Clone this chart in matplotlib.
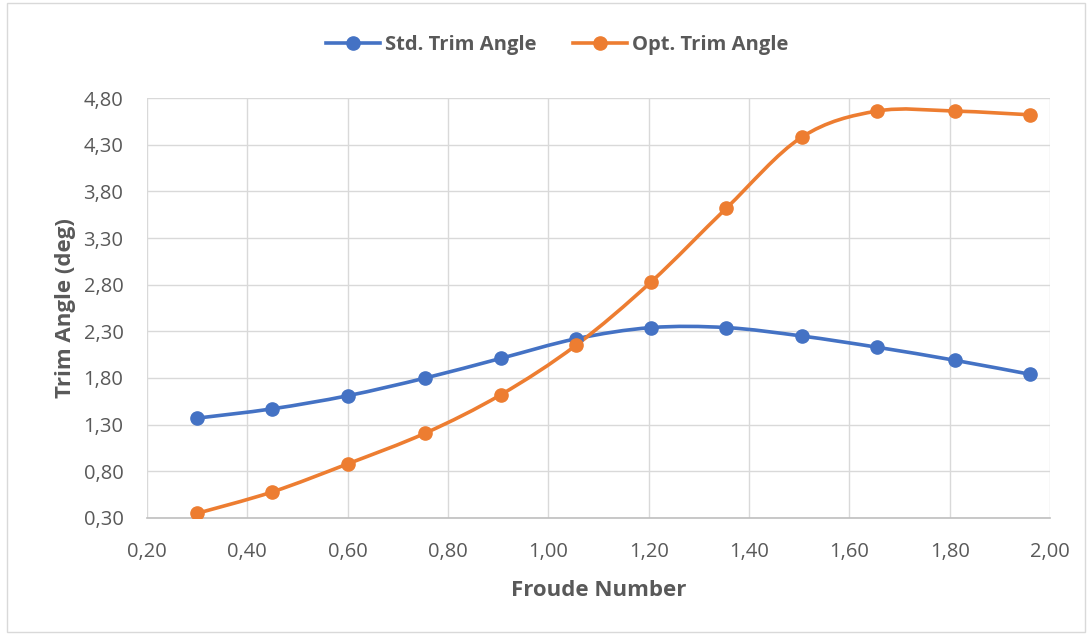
import numpy as np
import matplotlib
matplotlib.use("Agg")
import matplotlib.pyplot as plt
from matplotlib.path import Path
from matplotlib.patches import PathPatch, Rectangle
from matplotlib.lines import Line2D
from matplotlib.ticker import FuncFormatter

# data
froude = [0.30, 0.45, 0.60, 0.755, 0.905, 1.055, 1.205, 1.355, 1.505, 1.655, 1.81, 1.96]
std_trim = [1.37, 1.47, 1.61, 1.80, 2.01, 2.22, 2.34, 2.34, 2.25, 2.13, 1.99, 1.84]
opt_trim = [0.35, 0.58, 0.88, 1.21, 1.62, 2.15, 2.83, 3.62, 4.38, 4.66, 4.66, 4.62]

x_ticks = np.arange(0.20, 2.001, 0.20)
y_ticks = np.arange(0.30, 4.801, 0.50)

BLUE = '#4472C4'
ORANGE = '#ED7D31'
TXT = '#595959'

plt.rcParams['font.family'] = ['Open Sans', 'DejaVu Sans']


def smooth_path(xs, ys):
    """Excel style smoothed line: cubic bezier through every point"""
    pts = np.column_stack([xs, ys])
    n = len(pts)
    verts = [pts[0]]
    codes = [Path.MOVETO]
    for i in range(n - 1):
        p0 = pts[i - 1] if i > 0 else pts[i]
        p1 = pts[i]
        p2 = pts[i + 1]
        p3 = pts[i + 2] if i + 2 < n else pts[i + 1]
        c1 = p1 + (p2 - p0) / 6.0
        c2 = p2 - (p3 - p1) / 6.0
        verts += [c1, c2, p2]
        codes += [Path.CURVE4] * 3
    return Path(verts, codes)


fig = plt.figure(figsize=(10.92, 6.35), dpi=100)
ax = fig.add_axes([147 / 1092, 1 - 518 / 635, (1050 - 147) / 1092, (518 - 98) / 635])

for xs, ys, col in [(froude, std_trim, BLUE), (froude, opt_trim, ORANGE)]:
    ax.add_patch(PathPatch(smooth_path(xs, ys), fill=False, edgecolor=col,
                           linewidth=2.6, zorder=3, capstyle='round'))
    ax.plot(xs, ys, linestyle='none', marker='o', markersize=9.5, color=col, zorder=4)

ax.set_xlim(0.20, 2.00)
ax.set_ylim(0.30, 4.80)
ax.set_xticks(x_ticks)
ax.set_yticks(y_ticks)
fmt = FuncFormatter(lambda v, p: f'{v:.2f}'.replace('.', ','))
ax.xaxis.set_major_formatter(fmt)
ax.yaxis.set_major_formatter(fmt)
ax.tick_params(length=0, labelsize=14.5, colors=TXT, pad=17)
ax.grid(True, color='#D9D9D9', linewidth=1)
ax.set_axisbelow(True)
for s in ['top', 'right', 'left']:
    ax.spines[s].set_visible(False)
ax.spines['bottom'].set_color('#BFBFBF')
ax.spines['bottom'].set_linewidth(1.2)

ax.set_xlabel('Froude Number', fontsize=16, fontweight='bold', color=TXT, labelpad=13)
ax.set_ylabel('Trim Angle (deg)', fontsize=16, fontweight='bold', color=TXT, labelpad=5)

handles = [Line2D([], [], color=BLUE, marker='o', markersize=9.5, linewidth=2.6),
           Line2D([], [], color=ORANGE, marker='o', markersize=9.5, linewidth=2.6)]
leg = fig.legend(handles, ['Std. Trim Angle', 'Opt. Trim Angle'], loc='center',
                 bbox_to_anchor=(557 / 1092, 1 - 45 / 635), ncol=2, frameon=False,
                 handlelength=2.7, columnspacing=1.8, handletextpad=0.25,
                 prop={'size': 14.5, 'weight': 'bold'})
for t in leg.get_texts():
    t.set_color(TXT)

# thin chart border
fig.patches.append(Rectangle((7 / 1092, 3 / 635), 1 - 14 / 1092, 1 - 6 / 635,
                             transform=fig.transFigure, fill=False,
                             edgecolor='#D9D9D9', linewidth=1))

fig.savefig('out.png', dpi=100)
